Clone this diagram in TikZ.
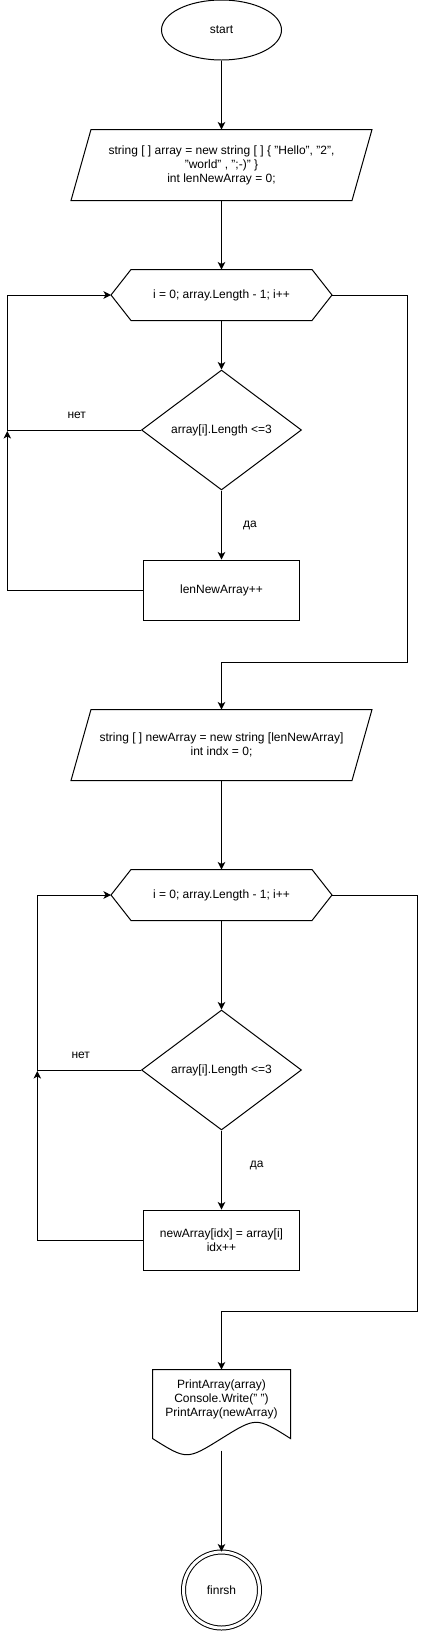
\documentclass[tikz,border=0pt]{standalone}
\usepackage{fontspec}
\setmainfont{Liberation Sans}
\usetikzlibrary{shapes.geometric,arrows.meta}
\begin{document}
\begin{tikzpicture}[x=1pt,y=-1pt,line width=1pt,
  every node/.style={font=\fontsize{12}{14}\selectfont,align=center,inner sep=0pt},
  box/.style={minimum width=#1,minimum height=60pt},
  frame/.style={draw=none,rectangle},
  arr/.style={-{Stealth[length=7.5pt,width=7.5pt,inset=2pt]}},
  lbl/.style={}]
\useasboundingbox (0,0) rectangle (426,1631);
\fill[white] (0,0) rectangle (426,1631);

% start
\node[draw,ellipse,minimum width=120pt,minimum height=60pt] (start) at (221.5,30) {start};

% parallelogram 1
\node[frame,minimum width=300pt,minimum height=70pt] (p1) at (221.5,165)
  {string [ ] array = new string [ ] \{ "Hello", "2",\\ "world" , ";-)" \}\\ int lenNewArray = 0;};
\draw ([xshift=20pt]p1.north west) -- (p1.north east) -- ([xshift=-20pt]p1.south east) -- (p1.south west) -- cycle;

% hexagon 1
\node[frame,minimum width=220pt,minimum height=50pt] (h1) at (221.5,295) {i = 0; array.Length - 1; i++};
\draw (h1.west) -- ([xshift=20pt]h1.north west) -- ([xshift=-20pt]h1.north east) -- (h1.east)
  -- ([xshift=-20pt]h1.south east) -- ([xshift=20pt]h1.south west) -- cycle;

% diamond 1
\node[draw,diamond,minimum width=160pt,minimum height=120pt] (d1) at (221.5,430) {array[i].Length <=3};

% box 1
\node[draw,rectangle,box=156pt] (b1) at (221.5,590) {lenNewArray++};

% parallelogram 2
\node[frame,minimum width=300pt,minimum height=70pt] (p2) at (221.5,745)
  {string [ ] newArray = new string [lenNewArray]\\ int indx = 0;};
\draw ([xshift=20pt]p2.north west) -- (p2.north east) -- ([xshift=-20pt]p2.south east) -- (p2.south west) -- cycle;

% hexagon 2
\node[frame,minimum width=220pt,minimum height=50pt] (h2) at (221.5,895) {i = 0; array.Length - 1; i++};
\draw (h2.west) -- ([xshift=20pt]h2.north west) -- ([xshift=-20pt]h2.north east) -- (h2.east)
  -- ([xshift=-20pt]h2.south east) -- ([xshift=20pt]h2.south west) -- cycle;

% diamond 2
\node[draw,diamond,minimum width=160pt,minimum height=120pt] (d2) at (221.5,1070) {array[i].Length <=3};

% box 2
\node[draw,rectangle,box=156pt] (b2) at (221.5,1240) {newArray[idx] = array[i]\\ idx++};

% document
\node[frame,minimum width=137pt,minimum height=80pt] (doc) at (221.5,1410) {};
\node[frame] (doctext) at (221.5,1399) {PrintArray(array)\\ Console.Write(" ")\\ PrintArray(newArray)};
\draw (doc.north west) -- (doc.north east) -- ([yshift=12pt]doc.south east)
  .. controls ([xshift=-34.25pt,yshift=33.6pt]doc.south east) .. ([yshift=12pt]doc.south)
  .. controls ([xshift=34.25pt,yshift=-9.6pt]doc.south west) .. ([yshift=12pt]doc.south west) -- cycle;

% finish
\node[draw,circle,double,double distance=3pt,minimum size=76pt] (fin) at (221.5,1590) {finrsh};

% junction coordinates
\coordinate (j1) at (7.3,431);
\coordinate (j2) at (37.3,1071);

% connectors
\draw[arr] (start) -- (p1.north);
\draw[arr] (p1.south) -- (h1.north);
\draw[arr] (h1.south) -- (d1.north);
\draw[arr] (d1.west) -- (7.3,430) -- (7.3,295) -- (h1.west);
\draw[arr] (d1.south) -- (b1.north);
\draw[arr] (b1.west) -- (7.3,590) -- (j1);
\draw[arr] (h1.east) -- (407.3,295) -- (407.3,662.3) -- (221.5,662.3) -- (p2.north);
\draw[arr] (p2.south) -- (h2.north);
\draw[arr] (h2.south) -- (d2.north);
\draw[arr] (d2.west) -- (37.3,1070) -- (37.3,895) -- (h2.west);
\draw[arr] (d2.south) -- (b2.north);
\draw[arr] (b2.west) -- (37.3,1240) -- (j2);
\draw[arr] (h2.east) -- (417.3,895) -- (417.3,1311.7) -- (221.5,1311.7) -- (doc.north);
\draw[arr] (doc.south) -- (fin.north);

% labels
\node[lbl] (no1) at (76.7,415) {нет};
\node[lbl] (yes1) at (250,525) {да};
\node[lbl] (no2) at (80.7,1055) {нет};
\node[lbl] (yes2) at (256.7,1165) {да};
\end{tikzpicture}
\end{document}
